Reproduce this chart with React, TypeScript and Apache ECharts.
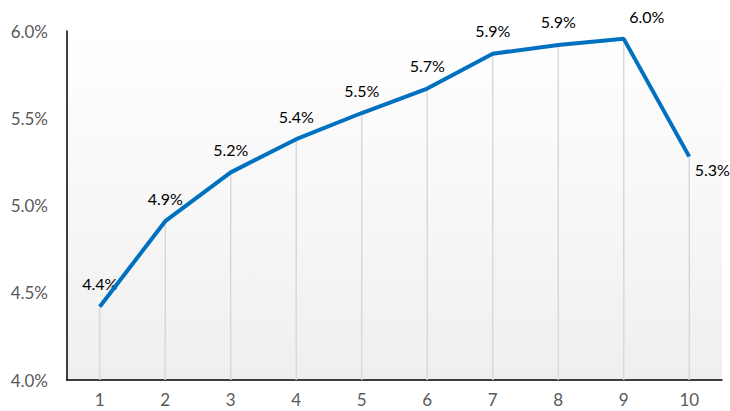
import React, { useEffect, useRef } from "react";
import * as echarts from "echarts";

const categories = ["1", "2", "3", "4", "5", "6", "7", "8", "9", "10"];
const values = [4.42, 4.91, 5.19, 5.38, 5.53, 5.67, 5.87, 5.92, 5.955, 5.28];
const yTicks = [4.0, 4.5, 5.0, 5.5, 6.0];

export default function App() {
  const ref = useRef<HTMLDivElement>(null);
  useEffect(() => {
    if (!ref.current) return;
    const chart = echarts.init(ref.current, null, { renderer: "svg" });
    const font = "Lato, 'Open Sans', sans-serif";
    chart.setOption({
      animation: false,
      grid: {
        left: 67,
        right: 8,
        top: 31,
        bottom: 31,
        show: true,
        borderWidth: 0,
        backgroundColor: {
          type: "linear",
          x: 0,
          y: 0,
          x2: 0,
          y2: 1,
          colorStops: [
            { offset: 0, color: "#ffffff" },
            { offset: 1, color: "#efefef" },
          ],
        },
      },
      xAxis: {
        type: "category",
        data: categories,
        boundaryGap: true,
        axisLine: { show: true, lineStyle: { color: "#000000", width: 1.5 } },
        axisTick: { show: false },
        splitLine: { show: false },
        axisLabel: { color: "#595959", fontSize: 17, fontFamily: font, margin: 11 },
      },
      yAxis: {
        type: "value",
        min: yTicks[0],
        max: yTicks[yTicks.length - 1],
        interval: 0.5,
        axisLine: { show: true, lineStyle: { color: "#000000", width: 1.5 } },
        axisTick: { show: false },
        splitLine: { show: false },
        axisLabel: {
          color: "#595959",
          fontSize: 17,
          fontFamily: font,
          margin: 19,
          formatter: (v: number) => v.toFixed(1) + "%",
        },
      },
      series: [
        {
          type: "bar",
          data: values.map((v, i) => {
            const d: any = { value: v };
            if (i === 8) {
              d.label = { position: "top", offset: [23, 1] };
            } else if (i === 9) {
              d.label = { position: "top", offset: [23, 36] };
            }
            return d;
          }),
          barWidth: 1.5,
          itemStyle: { color: "#d9d9d9" },
          silent: true,
          z: 1,
          label: {
            show: true,
            position: "top",
            distance: 15,
            color: "#000000",
            fontSize: 16,
            fontFamily: font,
            formatter: (p: any) => Number(p.value).toFixed(1) + "%",
          },
        },
        {
          type: "line",
          data: values,
          showSymbol: false,
          lineStyle: { color: "#0070C0", width: 4 },
          z: 3,
        },
      ],
    });
    return () => chart.dispose();
  }, []);
  return <div ref={ref} style={{ width: 730, height: 411, position: "absolute", left: 0, top: 0 }} />;
}
